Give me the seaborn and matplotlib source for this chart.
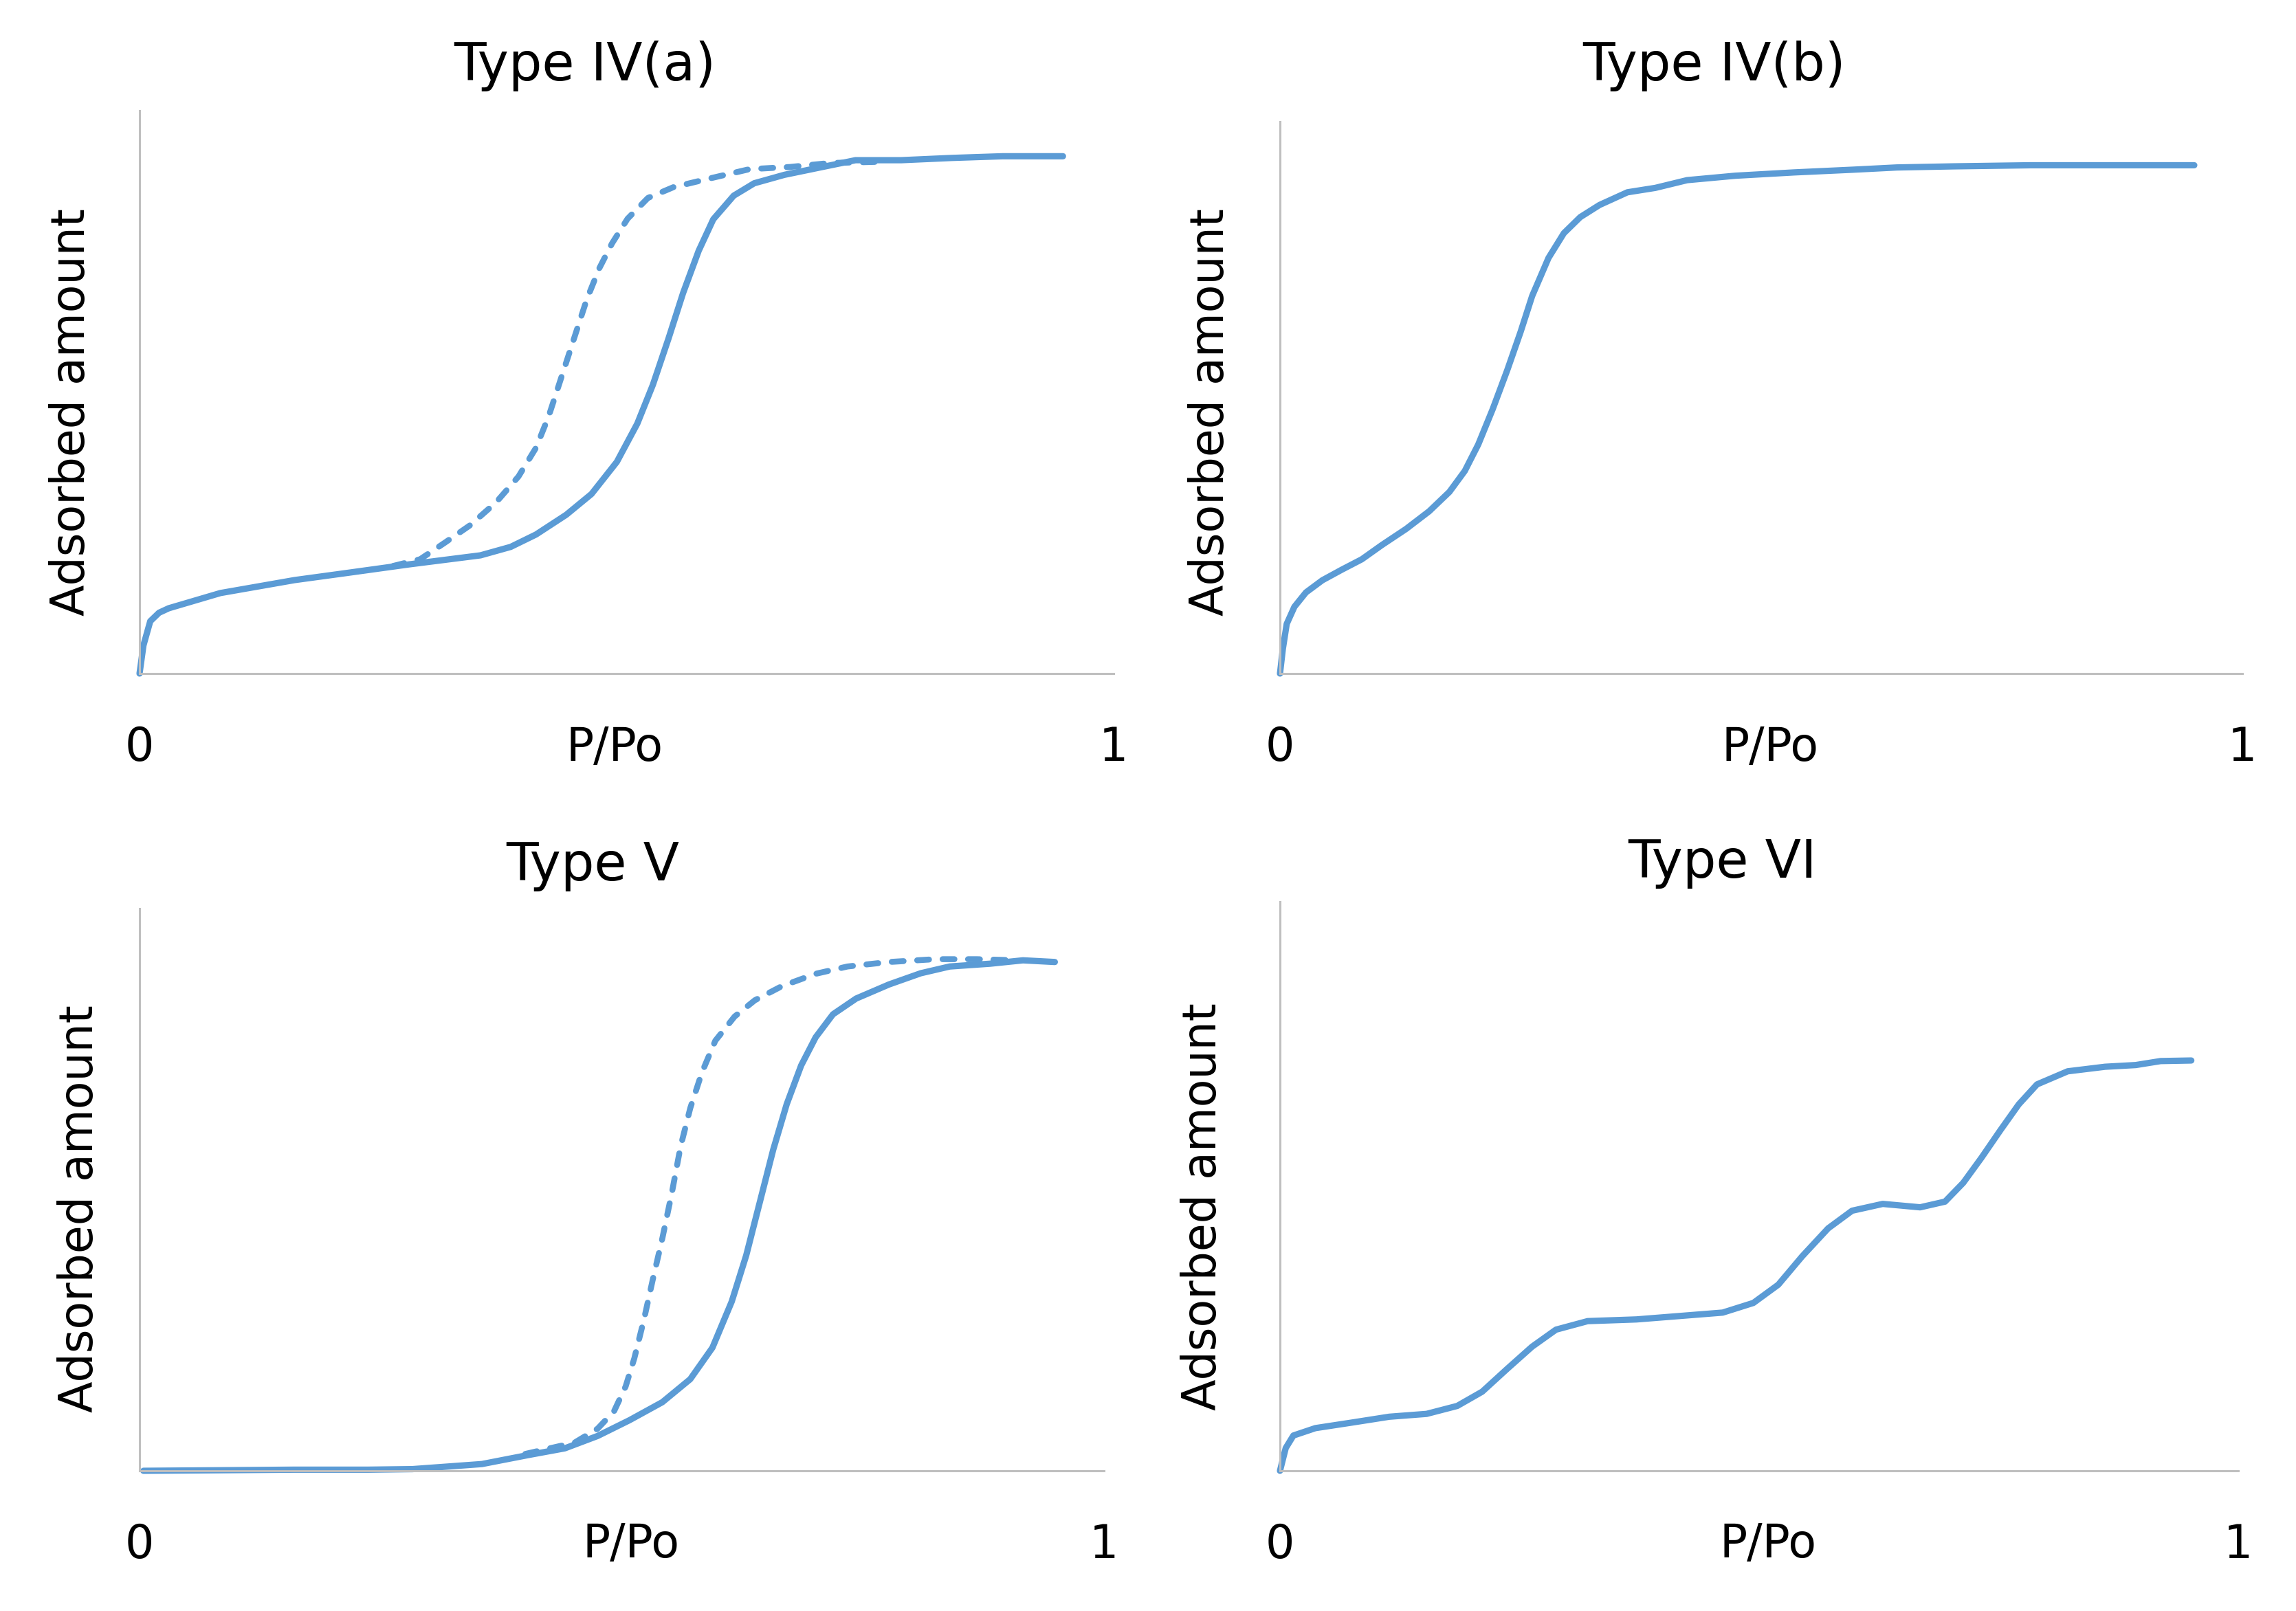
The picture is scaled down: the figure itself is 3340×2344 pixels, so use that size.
import matplotlib
matplotlib.use('Agg')
import matplotlib.pyplot as plt
import seaborn as sns

# --- values (x = P/Po, y = share of axis height) ---
iva_ads_x = [0, 0.004, 0.011, 0.020, 0.030, 0.083, 0.159, 0.210, 0.277, 0.350, 0.381,
             0.407, 0.438, 0.464, 0.490, 0.511, 0.527, 0.543, 0.558, 0.574, 0.589,
             0.610, 0.631, 0.662, 0.704, 0.735, 0.782, 0.834, 0.886, 0.948]
iva_ads_y = [0, 0.050, 0.093, 0.108, 0.116, 0.143, 0.166, 0.178, 0.194, 0.210, 0.225,
             0.247, 0.282, 0.319, 0.376, 0.444, 0.513, 0.595, 0.676, 0.751, 0.807,
             0.849, 0.871, 0.886, 0.901, 0.912, 0.912, 0.916, 0.919, 0.919]
iva_des_x = [0.260, 0.288, 0.313, 0.339, 0.366, 0.389, 0.407, 0.420, 0.433, 0.446,
             0.459, 0.472, 0.485, 0.501, 0.522, 0.548, 0.584, 0.626, 0.668, 0.709, 0.756]
iva_des_y = [0.191, 0.203, 0.232, 0.263, 0.304, 0.350, 0.401, 0.457, 0.526, 0.595,
             0.664, 0.720, 0.764, 0.808, 0.845, 0.864, 0.879, 0.896, 0.900, 0.907, 0.909]

ivb_x = [0, 0.003, 0.007, 0.015, 0.027, 0.044, 0.064, 0.085, 0.106, 0.131, 0.155,
         0.176, 0.192, 0.206, 0.221, 0.236, 0.250, 0.262, 0.279, 0.295, 0.312,
         0.332, 0.361, 0.390, 0.423, 0.473, 0.534, 0.596, 0.641, 0.700, 0.780,
         0.860, 0.950]
ivb_y = [0, 0.045, 0.090, 0.121, 0.147, 0.169, 0.188, 0.207, 0.233, 0.262, 0.294,
         0.329, 0.367, 0.415, 0.479, 0.549, 0.619, 0.684, 0.753, 0.798, 0.827,
         0.849, 0.872, 0.880, 0.894, 0.902, 0.908, 0.913, 0.917, 0.919, 0.921,
         0.921, 0.921]

v_ads_x = [0.004, 0.084, 0.160, 0.237, 0.283, 0.355, 0.403, 0.441, 0.475, 0.508,
           0.542, 0.571, 0.594, 0.614, 0.629, 0.643, 0.657, 0.671, 0.686, 0.701,
           0.719, 0.743, 0.777, 0.810, 0.840, 0.882, 0.916, 0.949]
v_ads_y = [0, 0.001, 0.002, 0.002, 0.003, 0.012, 0.028, 0.040, 0.062, 0.090,
           0.122, 0.163, 0.219, 0.301, 0.383, 0.477, 0.571, 0.652, 0.721, 0.771,
           0.812, 0.840, 0.865, 0.885, 0.897, 0.902, 0.908, 0.905]
v_des_x = [0.400, 0.451, 0.475, 0.492, 0.504, 0.513, 0.523, 0.532, 0.542, 0.552,
           0.561, 0.571, 0.583, 0.597, 0.617, 0.638, 0.666, 0.701, 0.734, 0.777,
           0.825, 0.868, 0.910]
v_des_y = [0.030, 0.050, 0.075, 0.106, 0.150, 0.200, 0.269, 0.339, 0.413, 0.495,
           0.577, 0.645, 0.708, 0.765, 0.808, 0.837, 0.862, 0.884, 0.897, 0.905,
           0.910, 0.910, 0.908]

vi_x = [0, 0.006, 0.014, 0.037, 0.076, 0.114, 0.153, 0.185, 0.211, 0.237, 0.263,
        0.288, 0.321, 0.372, 0.417, 0.462, 0.494, 0.520, 0.545, 0.572, 0.597,
        0.629, 0.668, 0.694, 0.713, 0.732, 0.752, 0.771, 0.790, 0.822, 0.861,
        0.893, 0.919, 0.951]
vi_y = [0, 0.040, 0.062, 0.075, 0.085, 0.095, 0.100, 0.114, 0.139, 0.179, 0.218,
        0.248, 0.263, 0.266, 0.272, 0.278, 0.295, 0.327, 0.377, 0.426, 0.457,
        0.469, 0.463, 0.473, 0.506, 0.550, 0.599, 0.644, 0.679, 0.702, 0.710,
        0.713, 0.720, 0.721]

titles = ['Type IV(a)', 'Type IV(b)', 'Type V', 'Type VI']
x_ticks = [0, 1]
x_tick_labels = ['0', '1']
x_label = 'P/Po'
y_label = 'Adsorbed amount'

# for each panel: list of (x, y, dashed?)
series = [
    [(iva_des_x, iva_des_y, True), (iva_ads_x, iva_ads_y, False)],
    [(ivb_x, ivb_y, False)],
    [(v_des_x, v_des_y, True), (v_ads_x, v_ads_y, False)],
    [(vi_x, vi_y, False)],
]

# --- layout in pixels of the 3340x2344 picture ---
W, H = 3340, 2344
boxes = [(203, 161, 1620, 980), (1862, 177, 3262, 980),
         (203, 1322, 1606, 2140), (1862, 1312, 3256, 2140)]  # left, top, right, bottom
title_pos = [(851, 96), (2494, 96), (862, 1260), (2505, 1256)]
ylabel_pos = [(104, 600), (1761, 600), (116, 1759), (1750, 1756)]
xlabel_pos = [(894, 1088), (2575, 1088), (918, 2247), (2572, 2247)]

blue = '#5B9BD5'
grey = '#BFBFBF'

sns.set_theme(style='white')
plt.rcParams['font.family'] = ['DejaVu Sans']
plt.rcParams['text.color'] = 'black'
plt.rcParams['axes.labelcolor'] = 'black'
plt.rcParams['xtick.color'] = 'black'

fig = plt.figure(figsize=(W / 200, H / 200), dpi=200)

for i in range(4):
    l, t, r, b = boxes[i]
    ax = fig.add_axes([l / W, 1 - b / H, (r - l) / W, (b - t) / H])

    for xs, ys, dashed in series[i]:
        if dashed:
            sns.lineplot(x=xs, y=ys, ax=ax, color=blue, linewidth=3.1,
                         estimator=None, linestyle=(0, (2.0, 2.3)),
                         dash_capstyle='round', dash_joinstyle='round',
                         clip_on=False)
        else:
            sns.lineplot(x=xs, y=ys, ax=ax, color=blue, linewidth=3.3,
                         estimator=None, solid_capstyle='round',
                         solid_joinstyle='round', clip_on=False)

    ax.set_xlim(0, 1)
    ax.set_ylim(0, 1)
    ax.set_yticks([])
    ax.set_xticks(x_ticks)
    ax.set_xticklabels(x_tick_labels, fontsize=24)
    ax.tick_params(axis='x', length=0, pad=108 / 200 * 72)
    for lbl in ax.get_xticklabels():
        lbl.set_va('center')

    for s in ['top', 'right']:
        ax.spines[s].set_visible(False)
    for s in ['left', 'bottom']:
        ax.spines[s].set_color(grey)
        ax.spines[s].set_linewidth(1.1)

    ax.set_xlabel(x_label, fontsize=24, va='center')
    ax.xaxis.set_label_coords(xlabel_pos[i][0] / W, 1 - xlabel_pos[i][1] / H,
                              transform=fig.transFigure)
    ax.set_ylabel(y_label, fontsize=24, va='center')
    ax.yaxis.set_label_coords(ylabel_pos[i][0] / W, 1 - ylabel_pos[i][1] / H,
                              transform=fig.transFigure)

    fig.text(title_pos[i][0] / W, 1 - title_pos[i][1] / H, titles[i],
             fontsize=27.5, ha='center', va='center')

fig.savefig('out.png', dpi=200, facecolor='white')
